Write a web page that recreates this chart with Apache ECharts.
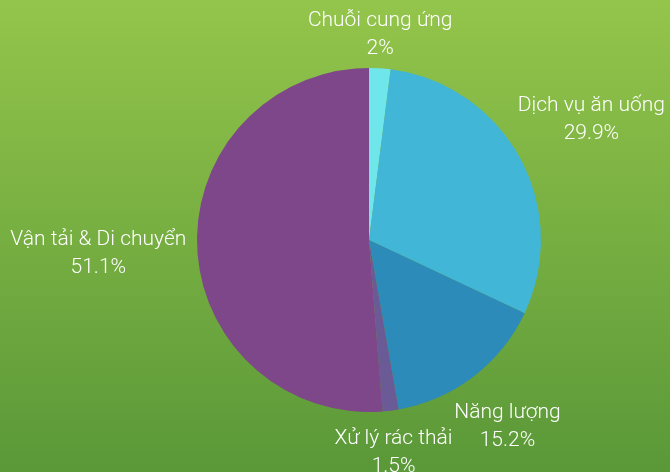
<!DOCTYPE html>
<html>
<head>
<meta charset="utf-8">
<script src="https://cdn.jsdelivr.net/npm/echarts@6/dist/echarts.min.js"></script>
<style>
  html, body { margin: 0; padding: 0; }
  #chart { width: 670px; height: 472px; }
</style>
</head>
<body>
<div id="chart"></div>
<script>
// Dữ liệu
const categories = ["Chuỗi cung ứng", "Dịch vụ ăn uống", "Năng lượng", "Xử lý rác thải", "Vận tải & Di chuyển"];
const values = [2, 29.9, 15.2, 1.5, 51.1];
const colors = ["#6ee6ea", "#42b6d6", "#2d8bba", "#6a5a96", "#7e4789"];

const chart = echarts.init(document.getElementById("chart"));

const CX = 369, CY = 240, R = 172, GAP = 8;
const total = values.reduce((a, b) => a + b, 0);

// góc giữa của từng lát (tính từ đỉnh, theo chiều kim đồng hồ)
const midAngles = [];
let acc = 0;
values.forEach(v => {
  midAngles.push((acc + v / 2) / total * Math.PI * 2);
  acc += v;
});

const option = {
  backgroundColor: {
    type: "linear", x: 0, y: 0, x2: 0, y2: 1,
    colorStops: [
      { offset: 0, color: "#94c54b" },
      { offset: 1, color: "#5a9838" }
    ]
  },
  series: [
    {
      type: "pie",
      center: [CX, CY],
      radius: R,
      startAngle: 90,
      clockwise: true,
      data: categories.map((name, i) => ({
        name: name,
        value: values[i],
        itemStyle: { color: colors[i] }
      })),
      label: {
        show: true,
        position: "outside",
        formatter: "{b}\n{c}%",
        color: "#ffffff",
        fontFamily: "Roboto",
        fontWeight: 300,
        fontSize: 21,
        lineHeight: 28,
        align: "center",
        overflow: "none"
      },
      labelLine: { show: false },
      // đặt nhãn ngay bên ngoài lát, căn giữa theo hướng góc giữa
      labelLayout: function (params) {
        const a = midAngles[params.dataIndex];
        const ux = Math.sin(a), uy = -Math.cos(a);
        const w = params.labelRect.width, h = params.labelRect.height;
        const d = R + GAP + Math.abs(ux) * w / 2 + Math.abs(uy) * (h / 2 - 4);
        return {
          x: CX + ux * d - 2,
          y: CY + uy * d + 3,
          align: "center",
          verticalAlign: "middle"
        };
      },
      emphasis: { disabled: true },
      animation: false
    }
  ]
};

chart.setOption(option);

window.addEventListener("resize", () => chart.resize());
</script>
</body>
</html>
